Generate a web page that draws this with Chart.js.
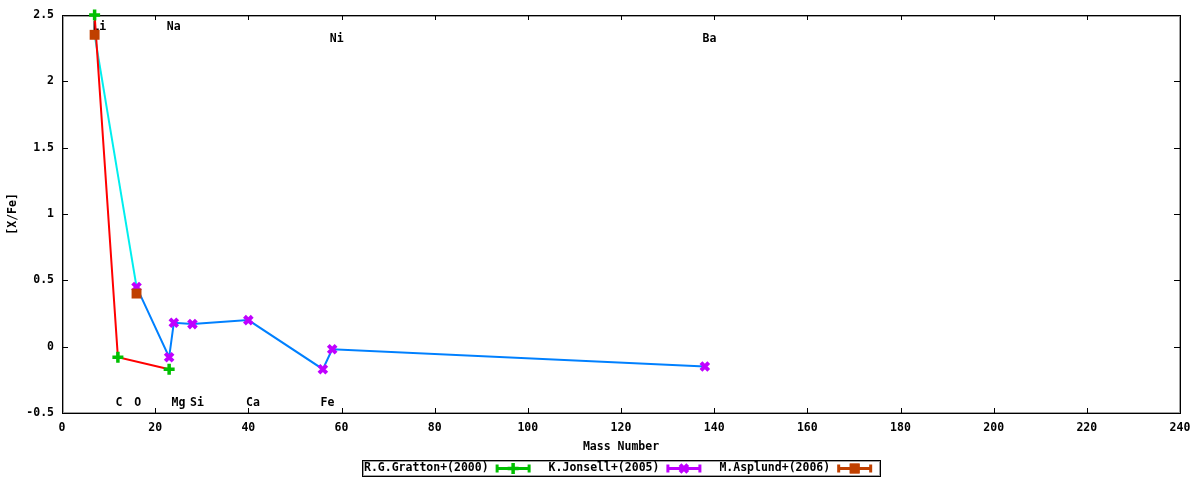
<!DOCTYPE html>
<html><head><meta charset="utf-8">
<script src="https://cdn.jsdelivr.net/npm/chart.js@4"></script>
<style>html,body{margin:0;padding:0;background:#fff;}</style>
</head><body>
<canvas id="c" width="1200" height="480"></canvas>
<script>
// ---- data ----
const grattonLabel = 'R.G.Gratton+(2000)';
const grattonMass = [7, 12, 23];
const grattonXFe = [2.5, -0.08, -0.17];

const jonsellLabel = 'K.Jonsell+(2005)';
const jonsellMass = [16, 23, 24, 28, 40, 56, 58, 138];
const jonsellXFe = [0.45, -0.08, 0.18, 0.17, 0.20, -0.17, -0.02, -0.15];

const asplundLabel = 'M.Asplund+(2006)';
const asplundMass = [7, 16];
const asplundXFe = [2.35, 0.40];

const cyanMass = [7, 16];
const cyanXFe = [2.35, 0.45];

const elementNames = ['Li', 'Na', 'Ni', 'Ba', 'C', 'O', 'Mg', 'Si', 'Ca', 'Fe'];
const elementMass = [7, 23, 58, 138, 12, 16, 24, 28, 40, 56];
const elementLabelY = [2.41, 2.41, 2.32, 2.32, -0.425, -0.425, -0.425, -0.425, -0.425, -0.425];

const xTickLabels = ['0','20','40','60','80','100','120','140','160','180','200','220','240'];
const yTickLabels = ['-0.5','0','0.5','1','1.5','2','2.5'];
const xTitle = 'Mass Number';
const yTitle = '[X/Fe]';

// ---- styling ----
const FONT_FAMILY = '"DejaVu Sans Mono", "Liberation Mono", monospace';
const FONT = { family: FONT_FAMILY, size: 11.5, weight: 'bold' };
const FONT_CSS = 'bold 11.5px ' + FONT_FAMILY;
const X_MIN = 0, X_MAX = 240, X_STEP = 20;
const Y_MIN = -0.5, Y_MAX = 2.5, Y_STEP = 0.5;

const pts = (xs, ys) => xs.map((x, i) => ({ x: x, y: ys[i] }));

const datasets = [
  { label: asplundLabel, data: pts(asplundMass, asplundXFe), showLine: false,
    pointStyle: 'rect', pointRadius: 7, pointBorderWidth: 0,
    backgroundColor: '#c04000', borderColor: '#c04000', order: 0, clip: false, isLegend: true },
  { label: jonsellLabel, data: pts(jonsellMass, jonsellXFe), showLine: false,
    pointStyle: 'crossRot', pointRadius: 5.5, pointBorderWidth: 4,
    backgroundColor: '#c000ff', borderColor: '#c000ff', order: 1, clip: false, isLegend: true },
  { label: grattonLabel, data: pts(grattonMass, grattonXFe), showLine: false,
    pointStyle: 'cross', pointRadius: 5.5, pointBorderWidth: 3.5,
    backgroundColor: '#00c000', borderColor: '#00c000', order: 1, clip: false, isLegend: true },
  { label: 'red', data: pts(grattonMass, grattonXFe), showLine: true, pointRadius: 0,
    borderColor: '#ff0000', borderWidth: 2, order: 3 },
  { label: 'cyan', data: pts(cyanMass, cyanXFe), showLine: true, pointRadius: 0,
    borderColor: '#00eeee', borderWidth: 2, order: 3 },
  { label: 'blue', data: pts(jonsellMass, jonsellXFe), showLine: true, pointRadius: 0,
    borderColor: '#0080ff', borderWidth: 2, order: 3 }
];

const legendOrder = [grattonLabel, jonsellLabel, asplundLabel];

const gnuplotLook = {
  id: 'gnuplotLook',
  beforeDatasetsDraw(chart) {
    const ctx = chart.ctx, a = chart.chartArea;
    const xs = chart.scales.x, ys = chart.scales.y;
    ctx.save();
    // element labels
    ctx.font = FONT_CSS; ctx.fillStyle = '#000';
    ctx.textAlign = 'left'; ctx.textBaseline = 'middle';
    elementNames.forEach((n, i) => {
      ctx.fillText(n, xs.getPixelForValue(elementMass[i] - 0.5), ys.getPixelForValue(elementLabelY[i]));
    });
    // frame
    const L = Math.round(a.left), R = Math.round(a.right), T = Math.round(a.top), B = Math.round(a.bottom);
    ctx.strokeStyle = '#a0a0a0'; ctx.lineWidth = 1;
    ctx.strokeRect(L + 1.5, T + 1.5, R - L - 2, B - T - 2);
    ctx.strokeStyle = '#000';
    ctx.strokeRect(L + 0.5, T + 0.5, R - L, B - T);
    // inward ticks
    ctx.beginPath();
    xs.ticks.forEach(t => {
      const px = Math.round(xs.getPixelForValue(t.value)) + 0.5;
      if (px <= L + 1 || px >= R - 1) return;
      ctx.moveTo(px, B); ctx.lineTo(px, B - 5);
      ctx.moveTo(px, T); ctx.lineTo(px, T + 5);
    });
    ys.ticks.forEach(t => {
      const py = Math.round(ys.getPixelForValue(t.value)) + 0.5;
      if (py <= T + 1 || py >= B - 1) return;
      ctx.moveTo(L, py); ctx.lineTo(L + 6, py);
      ctx.moveTo(R, py); ctx.lineTo(R - 6, py);
    });
    ctx.stroke();
    ctx.restore();
  },
  afterDraw(chart) {
    const ctx = chart.ctx, a = chart.chartArea;
    const items = chart.data.datasets.filter(d => d.isLegend)
      .sort((p, q) => legendOrder.indexOf(p.label) - legendOrder.indexOf(q.label));
    ctx.save();
    ctx.font = FONT_CSS;
    const sampleLen = 35, gapText = 7, gapItem = 18, padL = 2, padR = 8;
    const widths = items.map(d => ctx.measureText(d.label).width);
    let total = padL + padR + gapItem * (items.length - 1);
    widths.forEach(w => total += w + gapText + sampleLen);
    total = Math.round(total);
    const cx = (a.left + a.right) / 2;
    const boxL = Math.round(cx - total / 2), boxT = Math.round(a.bottom + 47), boxH = 16;
    ctx.fillStyle = '#fff';
    ctx.fillRect(boxL, boxT, total, boxH);
    ctx.strokeStyle = '#a0a0a0'; ctx.lineWidth = 1;
    ctx.strokeRect(boxL + 1.5, boxT + 1.5, total - 2, boxH - 2);
    ctx.strokeStyle = '#000';
    ctx.strokeRect(boxL + 0.5, boxT + 0.5, total, boxH);
    const cy = boxT + boxH / 2 + 0.5;
    let x = boxL + padL;
    items.forEach((d, i) => {
      ctx.fillStyle = '#000'; ctx.textAlign = 'left'; ctx.textBaseline = 'middle';
      ctx.fillText(d.label, x, cy);
      x += widths[i] + gapText;
      ctx.strokeStyle = d.borderColor; ctx.lineWidth = 3;
      ctx.beginPath();
      ctx.moveTo(x, cy); ctx.lineTo(x + sampleLen, cy);
      ctx.moveTo(x + 1.5, cy - 4); ctx.lineTo(x + 1.5, cy + 4);
      ctx.moveTo(x + sampleLen - 1.5, cy - 4); ctx.lineTo(x + sampleLen - 1.5, cy + 4);
      ctx.stroke();
      ctx.fillStyle = d.backgroundColor;
      ctx.lineWidth = d.pointBorderWidth || 1;
      Chart.helpers.drawPoint(ctx, {
        pointStyle: d.pointStyle, radius: d.pointRadius, rotation: 0,
        borderWidth: d.pointBorderWidth
      }, x + sampleLen / 2, cy);
      if (d.pointStyle === 'rect') ctx.fill();
      x += sampleLen + gapItem;
    });
    ctx.restore();
  }
};

new Chart(document.getElementById('c'), {
  type: 'scatter',
  data: { datasets: datasets },
  options: {
    responsive: false,
    animation: false,
    devicePixelRatio: 1,
    layout: { padding: { top: 13, right: 20, left: 0, bottom: 0 } },
    plugins: { legend: { display: false }, tooltip: { enabled: false } },
    elements: { line: { tension: 0 } },
    scales: {
      x: {
        type: 'linear', position: 'bottom', min: X_MIN, max: X_MAX,
        ticks: {
          stepSize: X_STEP, color: '#000', font: FONT, padding: 8, maxRotation: 0, autoSkip: false,
          callback: (v) => xTickLabels[Math.round((v - X_MIN) / X_STEP)]
        },
        grid: { display: false, drawTicks: false },
        border: { display: false },
        title: { display: true, text: xTitle, color: '#000', font: FONT, padding: { top: 0, bottom: 26 } },
        afterFit: (s) => { s.height = 67; }
      },
      y: {
        type: 'linear', position: 'left', min: Y_MIN, max: Y_MAX,
        ticks: {
          stepSize: Y_STEP, color: '#000', font: FONT, padding: 8,
          callback: (v) => yTickLabels[Math.round((v - Y_MIN) / Y_STEP)]
        },
        grid: { display: false, drawTicks: false },
        border: { display: false },
        title: { display: true, text: yTitle, color: '#000', font: FONT, padding: { top: 6, bottom: 0 } },
        afterFit: (s) => { s.width = 62; }
      }
    }
  },
  plugins: [gnuplotLook]
});
</script>
</body></html>
